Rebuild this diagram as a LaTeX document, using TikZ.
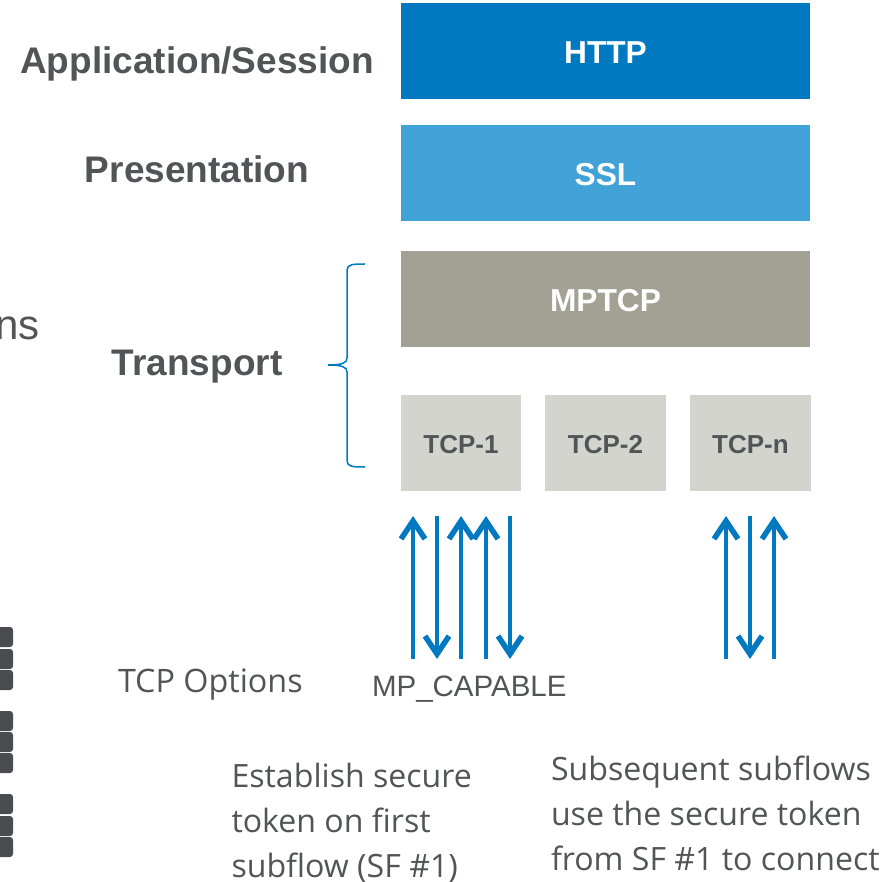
\documentclass[tikz,border=0pt]{standalone}
\usepackage{fontspec}
\setmainfont{Liberation Sans}
\newfontfamily\notefont{Open Sans}
\usetikzlibrary{arrows.meta}
\usetikzlibrary{positioning}
\definecolor{l1}{RGB}{0,121,193}
\definecolor{l2}{RGB}{65,162,216}
\definecolor{l3}{RGB}{162,161,147}
\definecolor{l4}{RGB}{211,212,206}
\definecolor{tx}{RGB}{83,84,88}
\definecolor{kn}{RGB}{75,76,80}

\begin{document}
\begin{tikzpicture}[
    x=1pt, y=-1pt,
    every node/.append style={outer sep=0pt},
    node distance=26pt,
    wide/.style={
        minimum width=409pt, minimum height=96pt, inner sep=0pt,
        text height=24.7pt, text depth=0pt,
        font=\fontsize{31.7}{34}\selectfont\bfseries, text=white
    },
    small/.style={
        fill=l4, minimum width=121pt, minimum height=96pt, inner sep=0pt,
        text height=20.5pt, text depth=0pt,
        font=\fontsize{26}{30}\selectfont\bfseries, text=tx
    },
    layer/.style={
        inner sep=0pt, text=tx, font=\fontsize{37}{40}\selectfont\bfseries
    },
    note/.style={
        align=left, inner sep=0pt, text=tx,
        font=\notefont\fontsize{32.1}{45}\selectfont
    },
    key/.style={
        fill=kn, rounded corners=3pt, minimum width=30pt, minimum height=20pt,
        inner sep=0pt
    },
    up/.style={
        draw=l1, line width=4pt,
        -{Straight Barb[length=18pt,width=24pt,line width=5.5pt]}
    },
    brace/.style={
        draw=l1, line width=1.5pt
    }
]
    \useasboundingbox (0,0) rectangle (889,882);

    \node (http) [wide, fill=l1, anchor=north west] at (401,3) {HTTP};
    \node (ssl) [wide, fill=l2, below=of http] {SSL};
    \node (mptcp) [wide, fill=l3, below=30pt of ssl] {MPTCP};
    \node (tcp1) [small, minimum width=120pt, anchor=north west] at (401,395) {TCP-1};
    \node (tcp2) [small, right=24pt of tcp1] {TCP-2};
    \node (tcpn) [small, right=24pt of tcp2] {TCP-n};

    \node (app) [layer] at (197,64) {Application/Session};
    \node (pres) [layer] at (197,169) {Presentation};
    \node (trans) [layer] at (197,367) {Transport};

    \node (ns) [inner sep=0pt, text=tx, anchor=base east, font=\fontsize{42}{44}\selectfont] at (40,340) {ns};

    % arrows under the subflows
    \foreach \name/\x/\a/\b in {a/413/s/e,b/437/e/s,c/461/s/e,d/486/s/e,e/510/e/s,f/726/s/e,g/750/e/s,h/774/s/e} {
        \coordinate (\name s) at (\x,659);
        \coordinate (\name e) at (\x,516);
        \draw [up] (\name\a) -- (\name\b);
    }

    \node (options) [note, anchor=base west, font=\notefont\fontsize{32.3}{34}\selectfont] at (118,692) {TCP Options};
    \node (capable) [inner sep=0pt, anchor=base west, text=tx, font=\fontsize{29.5}{34}\selectfont] at (372,696) {MP\_CAPABLE};

    \node (first) [note, anchor=north west] at (231.5,763) {Establish secure\\token on first\\subflow (SF \#1)};
    \node (later) [note, anchor=north west] at (551,756) {Subsequent subflows\\use the secure token\\from SF \#1 to connect};

    % keys at the left edge
    \foreach \y [count=\i] in {637,659,680,721,742,763,804,826,847} {
        \node (key\i) [key, anchor=east] at (13,\y) {};
    }

    \coordinate (bt) at (365,264);
    \coordinate (bm) at (328,365);
    \coordinate (bb) at (365,467);
    \draw [brace] (bt) .. controls (354,264) and (347,264) .. (347,270)
        -- (347,358) .. controls (347,363) and (342,365) .. (bm);
    \draw [brace] (bb) .. controls (354,467) and (347,467) .. (347,461)
        -- (347,372) .. controls (347,367) and (342,365) .. (bm);
\end{tikzpicture}
\end{document}
